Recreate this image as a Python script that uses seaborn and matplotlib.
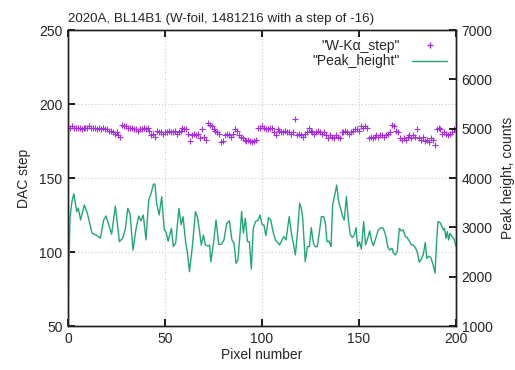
import numpy as np
import pandas as pd
import matplotlib
matplotlib.use("Agg")
import matplotlib.pyplot as plt
import seaborn as sns
from matplotlib.lines import Line2D

# ---- data ----
step_values = (
    [184,184,185,184,184,184,184,183,184,184,184,185,184,184,184,183]
    + [184,183,184,183,183] + [182,182,181] + [180,181,179,178] + [186,185,185]
    + [184,184,184] + [183,183,182,183,183] + [184,183,184,182] + [179,180,178]
    + [182,181,181,180,181] + [181,182,181,181,182,180,181,182] + [184,183,183]
    + [180,175,179,180,179] + [180,177,183,178,176] + [187,186,185,183]
    + [182,181,180] + [174,175] + [179,180,179,178,180] + [183,182]
    + [179,178,177] + [176,175,176,175,174,175,176] + [184,184,185,184]
    + [183,183,184] + [184,181,179,183,182] + [181,181,182,181,181,180,181]
    + [190] + [179,180,179,178,180,181] + [184] + [182,181,180,181,182,181]
    + [180,181,179,177] + [179,178,177,179,178,177] + [181,181,182,181,180,181,182]
    + [183,183,182] + [185,184,185,184] + [177,178,177,178]
    + [179,178,179,179,178,179,180,181] + [186,185] + [182,181]
    + [177,176,177,176] + [178,179,177,179,178,183] + [177,176,178,175,176,174]
    + [177,176,172] + [183,184,183] + [180,181,180,179,180,181] + [183,182]
)
step_pixels = list(range(len(step_values)))

peak_pixels = [
    0, 1, 2, 3, 4.5, 5.3, 6.5, 8.4, 10, 12.4, 14.4, 16.7, 18.4, 19.6, 21, 22.5,
    24.4, 26.5, 28.2, 29.6, 30.8, 32, 33.5, 35, 36.4, 37.6, 38.8, 40.2, 41.6,
    42.8, 44, 44.8, 45.7, 47, 48.3, 49.6, 50.5, 51.6, 53.3, 54.3, 55.5, 57.2,
    58.3, 59.3, 60.7, 61.5, 62.6, 64.1, 65.7, 66.7, 67.7, 68.7, 69.8, 70.8,
    72.2, 73, 73.6, 75, 76.3, 77.7, 79, 80.4, 81.8, 83.2, 84.5, 85.6, 86.6,
    87.6, 88.7, 89.5, 90.4, 91.4, 92.5, 93.5, 94.5, 95.5, 96.7, 98, 99, 100,
    101, 102, 103.4, 104.5, 105.7, 106.9, 108, 109, 110.6, 111.3, 112.4, 114,
    115.3, 116.3, 117.2, 118.4, 119.4, 120.3, 121, 122.3, 123.4, 124.4, 125.4,
    126.5, 127.5, 128.5, 129.6, 130.6, 131.8, 132.6, 133.5, 134.5, 135.6,
    136.4, 137.5, 138.5, 139.5, 140.5, 141.6, 142.4, 143.5, 144.5, 145.5,
    146.6, 147.6, 148.5, 149.3, 150.2, 151.2, 152.4, 153.4, 154.5, 155.5,
    156.5, 157.4, 158.6, 160, 161.3, 162.5, 163.7, 164.8, 165.8, 167, 167.9,
    168.7, 169.7, 170.8, 171.8, 172.8, 173.9, 174.9, 175.9, 177, 178, 179,
    180, 181.1, 182.1, 183.1, 184.2, 184.9, 185.9, 187, 188, 189.2, 190,
    190.7, 191.7, 192.8, 193.5, 194.1, 194.8, 195.5, 196.2, 196.9, 197.9,
    199, 200,
]
peak_heights = [
    1200, 3180, 3520, 3680, 3320, 3390, 3150, 3450, 3280, 2880, 2845, 2780,
    3150, 3230, 3050, 2860, 3430, 2710, 2780, 2980, 3385, 3265, 2540, 2950,
    3230, 3130, 3250, 2745, 3555, 3680, 3870, 3880, 3490, 3250, 3620, 2950,
    2910, 2720, 2980, 2610, 2680, 3385, 3050, 3215, 2675, 2510, 2100, 2610,
    3320, 3215, 2950, 2640, 2845, 2640, 2620, 2640, 2300, 2675, 3150, 2655,
    2655, 2745, 3080, 3130, 2745, 2675, 2270, 2340, 2880, 3320, 2880, 3185,
    2710, 2710, 2155, 2980, 3115, 3150, 3250, 3060, 3047, 2832, 3196, 3149,
    2913, 2744, 2697, 2642, 2764, 2812, 2744, 3216, 2845, 2642, 2440, 2947,
    3487, 3385, 3183, 2304, 2608, 2608, 2994, 2676, 2608, 2608, 2913, 3216,
    3216, 3115, 2710, 2723, 2608, 3453, 3656, 3858, 3520, 3385, 3216, 3149,
    3622, 3149, 2858, 2791, 2845, 2994, 2608, 2710, 2560, 3115, 2642, 2778,
    2927, 2723, 2629, 2778, 2947, 2994, 2980, 2845, 2608, 2540, 2575, 2474,
    2440, 2507, 2980, 2927, 2947, 2812, 2791, 2723, 2642, 2642, 2588, 2507,
    2291, 2358, 2440, 2697, 2372, 2413, 2386, 2270, 2074, 2710, 3115, 3101,
    3014, 2947, 2980, 2778, 2913, 2744, 2879, 2812, 2764, 2608,
]

title_text = "2020A, BL14B1 (W-foil, 1481216 with a step of -16)"
step_label = '"W-K\u03b1_step"'
peak_label = '"Peak_height"'
x_ticks = [0, 50, 100, 150, 200]
y_ticks = [50, 100, 150, 200, 250]
y2_ticks = [1000, 2000, 3000, 4000, 5000, 6000, 7000]

step_df = pd.DataFrame({"pixel": step_pixels, "step": step_values})
peak_df = pd.DataFrame({"pixel": peak_pixels, "height": peak_heights})

sns.set_theme(style="white")
plt.rcParams["font.family"] = ["Liberation Sans", "DejaVu Sans"]
plt.rcParams["font.size"] = 10

purple = "#a52ee0"
green = "#22a57c"

fig = plt.figure(figsize=(5.15, 3.70), dpi=100)
ax = fig.add_axes([68 / 515, 44 / 370, 388 / 515, 296 / 370])

sns.scatterplot(data=step_df, x="pixel", y="step", ax=ax, marker="+",
                color=purple, s=22, linewidth=0.8, legend=False, zorder=3)
ax.set_xlim(0, 200)
ax.set_ylim(50, 250)
ax.set_xticks(x_ticks)
ax.set_yticks(y_ticks)
ax.grid(True, color="#c8c8c8", linestyle=(0, (1, 2)), linewidth=0.8)
ax.set_xlabel("Pixel number", fontsize=10, labelpad=2)
ax.set_ylabel("DAC step", fontsize=10, labelpad=6)
ax.tick_params(axis="x", direction="in", top=True, bottom=True, length=5,
               color="black", labelsize=10, pad=4)
ax.tick_params(axis="y", direction="in", left=True, right=False, length=5,
               color="black", labelsize=10, pad=4)
for sp in ax.spines.values():
    sp.set_color("#222222")
    sp.set_linewidth(1.0)

ax2 = ax.twinx()
sns.lineplot(data=peak_df, x="pixel", y="height", ax=ax2, color=green,
             linewidth=1.0, legend=False)
ax2.set_ylim(1000, 7000)
ax2.set_yticks(y2_ticks)
ax2.set_xlim(0, 200)
ax2.set_ylabel("Peak height, counts", fontsize=10, labelpad=6)
ax2.set_xlabel("")
ax2.tick_params(axis="y", direction="in", right=True, length=5,
                color="black", labelsize=10, pad=4)
for sp in ax2.spines.values():
    sp.set_color("#222222")
    sp.set_linewidth(1.0)

ax.set_title(title_text, loc="left", fontsize=9.6, pad=6)

handles = [
    Line2D([], [], color=purple, marker="+", linestyle="none", markersize=4.5),
    Line2D([], [], color=green, linewidth=1.0),
]
leg = ax2.legend(handles, [step_label, peak_label], loc="upper right",
                 frameon=False, markerfirst=False, fontsize=10,
                 handlelength=2.5, handletextpad=0.9, borderaxespad=0.25,
                 labelspacing=0.1)
for t in leg.get_texts():
    t.set_ha("right")

fig.savefig("out.png", dpi=100)
